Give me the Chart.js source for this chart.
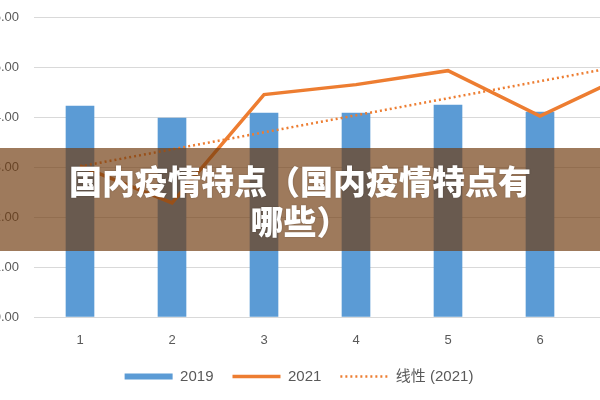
<!DOCTYPE html>
<html>
<head>
<meta charset="utf-8">
<script src="https://cdn.jsdelivr.net/npm/chart.js@4/dist/chart.umd.min.js"></script>
<style>
	html, body { margin: 0; padding: 0; background: #fff; overflow: hidden; }
	#stage { position: relative; width: 600px; height: 400px; overflow: hidden; }
	#wrap { position: absolute; left: -80px; top: -5px; width: 768px; height: 405px; }
	#band {
		position: absolute; left: 0; top: 148px; width: 600px; height: 103px;
		background: rgba(112, 59, 15, 0.68);
		display: flex; align-items: center; justify-content: center;
	}
	#band div {
		color: #fff; font-family: 'Noto Sans CJK SC', sans-serif; font-weight: 900;
		font-size: 33px; line-height: 40px; text-align: center; width: 560px;
		text-shadow: 0 0 2px rgba(0,0,0,0.25);
	}
</style>
</head>
<body>
<div id="stage">
	<div id="wrap"><canvas id="chart"></canvas></div>
	<div id="band"><div>国内疫情特点（国内疫情特点有<br>哪些）</div></div>
</div>
<script>
const labels = ['1', '2', '3', '4', '5', '6', '7']
const values2019 = [4.23, 3.99, 4.09, 4.09, 4.25, 4.11, 4.10]
const values2021 = [3.03, 2.29, 4.46, 4.66, 4.94, 4.03, 4.90]
// trend line ends (middle left empty, spanGaps joins them)
const trend2021 = [3.02, null, null, null, null, null, 5.07]
const yMin = 0
const yMax = 6

const font = "'Liberation Sans', 'Noto Sans CJK SC', sans-serif"

new Chart(document.getElementById('chart'), {
	type: 'bar',
	data: {
		labels,
		datasets: [
			{ label: '2019', data: values2019, backgroundColor: '#5b9bd5', borderWidth: 0,
				barThickness: 28, order: 3, pointStyle: 'rect' },
			{ label: '2021', type: 'line', data: values2021, borderColor: '#ed7d31', backgroundColor: '#ed7d31',
				borderWidth: 3.5, pointRadius: 0, tension: 0, order: 1, pointStyle: 'line' },
			{ label: '线性 (2021)', type: 'line', data: trend2021, borderColor: '#ed7d31', backgroundColor: '#ed7d31',
				borderWidth: 2.5, borderDash: [2, 3], pointRadius: 0, spanGaps: true, order: 2, pointStyle: 'line' },
		],
	},
	options: {
		responsive: true,
		maintainAspectRatio: false,
		animation: false,
		layout: { padding: { top: 10, right: 10, bottom: 6, left: 0 } },
		plugins: {
			tooltip: { enabled: false },
			legend: {
				position: 'bottom',
				labels: {
					usePointStyle: true,
					pointStyleWidth: 48,
					boxWidth: 48,
					boxHeight: 6,
					padding: 19,
					color: '#595959',
					font: { family: font, size: 15 },
					sort: (a, b) => a.datasetIndex - b.datasetIndex,
					generateLabels(chart) {
						const items = Chart.defaults.plugins.legend.labels.generateLabels(chart)
						items.forEach(item => {
							const ds = chart.data.datasets[item.datasetIndex]
							if (ds.type === 'line') {
								item.lineWidth = ds.borderWidth
								item.lineDash = ds.borderDash || []
							}
						})
						return items
					},
				},
			},
		},
		scales: {
			x: {
				grid: { display: false, drawTicks: false },
				border: { color: '#d9d9d9', width: 1 },
				ticks: { color: '#595959', font: { family: font, size: 13 }, padding: 16 },
				afterFit(scale) { scale.height = 33 },
			},
			y: {
				min: yMin,
				max: yMax,
				grid: { color: '#d9d9d9', drawTicks: false },
				border: { display: false },
				ticks: { stepSize: 1, color: '#595959', font: { family: font, size: 13 }, padding: 15,
					callback: v => v.toFixed(2) },
				afterFit(scale) { scale.width = 114 },
			},
		},
	},
})
</script>
</body>
</html>
